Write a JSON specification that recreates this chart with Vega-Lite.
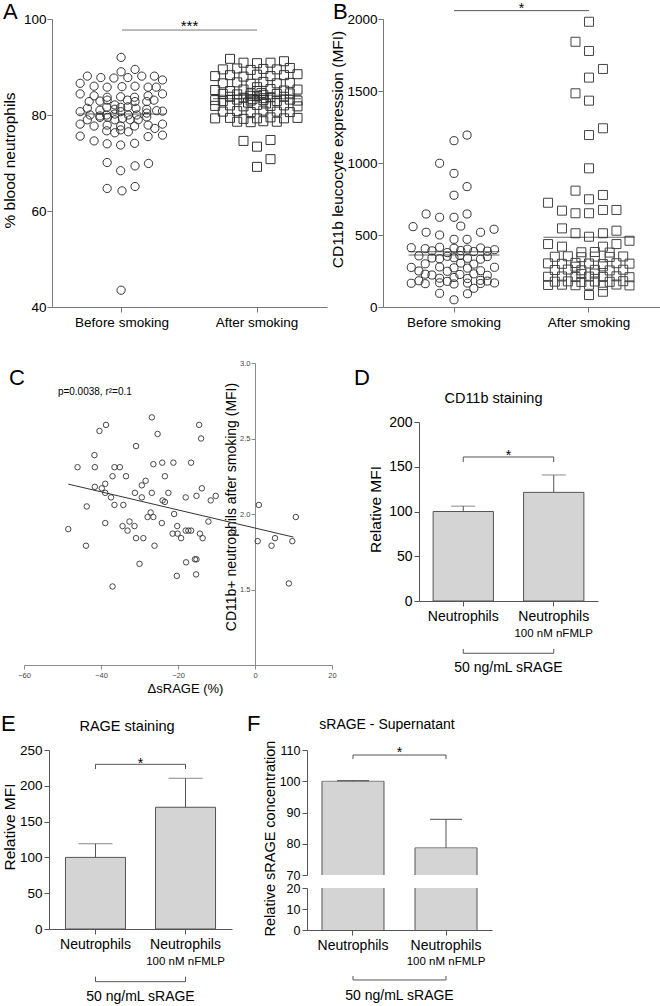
{
"$schema": "https://vega.github.io/schema/vega-lite/v6.json",
"width": 660,
"height": 1006,
"autosize": {"type": "none"},
"padding": 0,
"background": "white",
"config": {
 "view": {"stroke": null},
 "font": "Liberation Sans",
 "axis": {"labelFont": "Liberation Sans", "titleFont": "Liberation Sans", "titleFontWeight": "normal", "labelColor": "#000", "titleColor": "#000", "domainColor": "#555", "tickColor": "#555", "grid": false, "tickSize": 5, "labelFontSize": 13.5, "titleFontSize": 15.5, "labelPadding": 2, "labelFlush": false, "labelOverlap": false},
 "text": {"font": "Liberation Sans", "color": "#000"}
},
"resolve": {"scale": {"x": "independent", "y": "independent", "xOffset": "independent"}, "axis": {"x": "independent", "y": "independent"}},
"datasets": {
 "a_pts": [
  {"g":"Before smoking","j":-0.02,"v":92.0},{"g":"Before smoking","j":0.29,"v":89.5},{"g":"Before smoking","j":-0.02,"v":89.0},{"g":"Before smoking","j":-0.77,"v":88.1},{"g":"Before smoking","j":-0.47,"v":87.8},{"g":"Before smoking","j":-0.18,"v":87.7},{"g":"Before smoking","j":0.13,"v":87.8},{"g":"Before smoking","j":0.44,"v":88.1},{"g":"Before smoking","j":0.72,"v":88.1},{"g":"Before smoking","j":0.9,"v":87.3},
  {"g":"Before smoking","j":-0.93,"v":86.6},{"g":"Before smoking","j":-0.62,"v":86.0},{"g":"Before smoking","j":-0.33,"v":85.8},{"g":"Before smoking","j":0.0,"v":85.9},{"g":"Before smoking","j":0.29,"v":86.0},{"g":"Before smoking","j":0.58,"v":85.8},{"g":"Before smoking","j":0.76,"v":85.8},
  {"g":"Before smoking","j":-0.93,"v":84.4},{"g":"Before smoking","j":-0.62,"v":84.0},{"g":"Before smoking","j":-0.33,"v":83.7},{"g":"Before smoking","j":-0.03,"v":83.8},{"g":"Before smoking","j":0.28,"v":83.7},{"g":"Before smoking","j":0.58,"v":84.0},{"g":"Before smoking","j":0.9,"v":84.4},
  {"g":"Before smoking","j":-0.73,"v":82.8},{"g":"Before smoking","j":-0.49,"v":82.9},{"g":"Before smoking","j":-0.33,"v":83.1},{"g":"Before smoking","j":-0.16,"v":82.1},{"g":"Before smoking","j":0.12,"v":83.1},{"g":"Before smoking","j":0.29,"v":82.8},{"g":"Before smoking","j":0.55,"v":82.8},{"g":"Before smoking","j":0.71,"v":83.1},
  {"g":"Before smoking","j":-0.77,"v":81.4},{"g":"Before smoking","j":-0.49,"v":81.0},{"g":"Before smoking","j":-0.34,"v":81.6},{"g":"Before smoking","j":-0.16,"v":81.2},{"g":"Before smoking","j":-0.03,"v":81.6},{"g":"Before smoking","j":0.13,"v":81.7},{"g":"Before smoking","j":0.31,"v":81.4},{"g":"Before smoking","j":0.55,"v":81.2},{"g":"Before smoking","j":0.77,"v":80.9},
  {"g":"Before smoking","j":-0.93,"v":80.7},{"g":"Before smoking","j":-0.71,"v":80.0},{"g":"Before smoking","j":-0.49,"v":79.8},{"g":"Before smoking","j":-0.34,"v":80.0},{"g":"Before smoking","j":-0.16,"v":80.2},{"g":"Before smoking","j":-0.03,"v":80.7},{"g":"Before smoking","j":0.14,"v":80.0},{"g":"Before smoking","j":0.33,"v":80.0},{"g":"Before smoking","j":0.55,"v":80.4},{"g":"Before smoking","j":0.9,"v":80.8},
  {"g":"Before smoking","j":-0.77,"v":79.0},{"g":"Before smoking","j":-0.49,"v":79.5},{"g":"Before smoking","j":-0.32,"v":79.5},{"g":"Before smoking","j":-0.16,"v":79.0},{"g":"Before smoking","j":0.01,"v":79.3},{"g":"Before smoking","j":0.18,"v":79.0},{"g":"Before smoking","j":0.36,"v":79.0},{"g":"Before smoking","j":0.55,"v":79.6},
  {"g":"Before smoking","j":-0.93,"v":78.1},{"g":"Before smoking","j":-0.62,"v":77.7},{"g":"Before smoking","j":-0.33,"v":77.9},{"g":"Before smoking","j":-0.03,"v":77.7},{"g":"Before smoking","j":0.28,"v":77.7},{"g":"Before smoking","j":0.58,"v":77.9},{"g":"Before smoking","j":0.9,"v":78.1},
  {"g":"Before smoking","j":-0.34,"v":76.7},{"g":"Before smoking","j":-0.16,"v":76.3},{"g":"Before smoking","j":-0.03,"v":76.9},{"g":"Before smoking","j":0.14,"v":76.5},{"g":"Before smoking","j":0.73,"v":77.2},
  {"g":"Before smoking","j":-0.93,"v":75.6},{"g":"Before smoking","j":-0.62,"v":74.6},{"g":"Before smoking","j":-0.33,"v":74.0},{"g":"Before smoking","j":-0.03,"v":73.75},{"g":"Before smoking","j":0.28,"v":74.1},{"g":"Before smoking","j":0.58,"v":75.5},{"g":"Before smoking","j":0.9,"v":75.8},
  {"g":"Before smoking","j":-0.33,"v":70.1},{"g":"Before smoking","j":-0.03,"v":68.4},{"g":"Before smoking","j":0.29,"v":69.4},{"g":"Before smoking","j":0.59,"v":69.9},
  {"g":"Before smoking","j":-0.33,"v":64.7},{"g":"Before smoking","j":0.0,"v":64.2},{"g":"Before smoking","j":0.29,"v":65.1},{"g":"Before smoking","j":-0.02,"v":43.5},
  {"g":"After smoking","j":-0.6,"v":91.7},{"g":"After smoking","j":-0.3,"v":90.9},{"g":"After smoking","j":0.0,"v":90.8},{"g":"After smoking","j":0.3,"v":90.9},{"g":"After smoking","j":0.6,"v":91.2},
  {"g":"After smoking","j":-0.76,"v":89.5},{"g":"After smoking","j":-0.44,"v":89.7},{"g":"After smoking","j":-0.14,"v":89.4},{"g":"After smoking","j":0.14,"v":89.6},{"g":"After smoking","j":0.44,"v":89.5},{"g":"After smoking","j":0.73,"v":89.8},
  {"g":"After smoking","j":-0.93,"v":88.1},{"g":"After smoking","j":-0.6,"v":88.3},{"g":"After smoking","j":-0.3,"v":88.0},{"g":"After smoking","j":0.0,"v":88.4},{"g":"After smoking","j":0.3,"v":88.1},{"g":"After smoking","j":0.6,"v":88.3},{"g":"After smoking","j":0.9,"v":88.5},
  {"g":"After smoking","j":-0.76,"v":86.6},{"g":"After smoking","j":-0.44,"v":86.8},{"g":"After smoking","j":-0.14,"v":86.5},{"g":"After smoking","j":0.14,"v":86.9},{"g":"After smoking","j":0.44,"v":86.6},{"g":"After smoking","j":0.73,"v":86.7},
  {"g":"After smoking","j":-0.93,"v":85.2},{"g":"After smoking","j":-0.6,"v":85.0},{"g":"After smoking","j":-0.3,"v":85.3},{"g":"After smoking","j":0.0,"v":85.0},{"g":"After smoking","j":0.3,"v":85.4},{"g":"After smoking","j":0.6,"v":85.1},{"g":"After smoking","j":0.9,"v":85.3},
  {"g":"After smoking","j":-0.76,"v":84.4},{"g":"After smoking","j":-0.44,"v":84.3},{"g":"After smoking","j":-0.14,"v":84.5},{"g":"After smoking","j":0.14,"v":84.2},{"g":"After smoking","j":0.44,"v":84.4},{"g":"After smoking","j":0.73,"v":84.5},
  {"g":"After smoking","j":-0.6,"v":83.8},{"g":"After smoking","j":-0.3,"v":83.6},{"g":"After smoking","j":0.0,"v":83.9},{"g":"After smoking","j":0.3,"v":83.7},{"g":"After smoking","j":0.6,"v":83.8},
  {"g":"After smoking","j":-0.93,"v":83.1},{"g":"After smoking","j":-0.76,"v":82.9},{"g":"After smoking","j":-0.44,"v":83.2},{"g":"After smoking","j":-0.14,"v":83.0},{"g":"After smoking","j":0.14,"v":83.1},{"g":"After smoking","j":0.44,"v":82.9},{"g":"After smoking","j":0.73,"v":83.2},{"g":"After smoking","j":0.9,"v":83.0},
  {"g":"After smoking","j":-0.93,"v":81.9},{"g":"After smoking","j":-0.6,"v":82.0},{"g":"After smoking","j":-0.3,"v":81.8},{"g":"After smoking","j":0.0,"v":82.1},{"g":"After smoking","j":0.3,"v":81.9},{"g":"After smoking","j":0.6,"v":82.0},{"g":"After smoking","j":0.9,"v":81.8},
  {"g":"After smoking","j":-0.76,"v":80.7},{"g":"After smoking","j":-0.44,"v":80.8},{"g":"After smoking","j":-0.14,"v":80.6},{"g":"After smoking","j":0.14,"v":80.9},{"g":"After smoking","j":0.44,"v":80.7},{"g":"After smoking","j":0.73,"v":80.6},
  {"g":"After smoking","j":-0.93,"v":79.3},{"g":"After smoking","j":-0.6,"v":79.4},{"g":"After smoking","j":-0.3,"v":79.2},{"g":"After smoking","j":0.0,"v":79.3},{"g":"After smoking","j":0.3,"v":79.5},{"g":"After smoking","j":0.6,"v":79.3},{"g":"After smoking","j":0.9,"v":79.4},
  {"g":"After smoking","j":-0.44,"v":78.6},{"g":"After smoking","j":-0.14,"v":78.5},{"g":"After smoking","j":0.14,"v":78.7},{"g":"After smoking","j":0.44,"v":78.6},
  {"g":"After smoking","j":-0.15,"v":84.0},{"g":"After smoking","j":0.15,"v":83.5},{"g":"After smoking","j":-0.1,"v":83.3},{"g":"After smoking","j":0.1,"v":84.6},{"g":"After smoking","j":0.0,"v":85.8},{"g":"After smoking","j":-0.2,"v":82.6},{"g":"After smoking","j":0.2,"v":82.4},
  {"g":"After smoking","j":-0.3,"v":74.6},{"g":"After smoking","j":0.0,"v":73.4},{"g":"After smoking","j":0.3,"v":74.8},{"g":"After smoking","j":0.3,"v":70.8},{"g":"After smoking","j":0.0,"v":69.2}
 ],
 "a_mean": [{"g":"Before smoking","v":80.2},{"g":"After smoking","v":84.1},{"g":"After smoking","v":83.4}],
 "b_pts": [
  {"g":"Before smoking","j":0.29,"v":1194},{"g":"Before smoking","j":0,"v":1155},{"g":"Before smoking","j":-0.32,"v":998},{"g":"Before smoking","j":0,"v":928},{"g":"Before smoking","j":0.29,"v":836},{"g":"Before smoking","j":0,"v":776},{"g":"Before smoking","j":-0.62,"v":646},{"g":"Before smoking","j":-0.32,"v":623},{"g":"Before smoking","j":0,"v":623},{"g":"Before smoking","j":0.29,"v":646},{"g":"Before smoking","j":-0.91,"v":558},{"g":"Before smoking","j":0.15,"v":562},{"g":"Before smoking","j":-0.62,"v":519},{"g":"Before smoking","j":-0.32,"v":500},{"g":"Before smoking","j":0.59,"v":519},{"g":"Before smoking","j":0.89,"v":540},{"g":"Before smoking","j":0,"v":470},{"g":"Before smoking","j":0.29,"v":470},
  {"g":"Before smoking","j":-0.95,"v":412},{"g":"Before smoking","j":-0.64,"v":405},{"g":"Before smoking","j":-0.32,"v":415},{"g":"Before smoking","j":0,"v":408},{"g":"Before smoking","j":0.3,"v":402},{"g":"Before smoking","j":0.59,"v":410},{"g":"Before smoking","j":0.9,"v":398},
  {"g":"Before smoking","j":-0.49,"v":390},{"g":"Before smoking","j":0.15,"v":392},{"g":"Before smoking","j":0.44,"v":385},{"g":"Before smoking","j":0.74,"v":388},{"g":"Before smoking","j":-0.15,"v":378},
  {"g":"Before smoking","j":-0.78,"v":355},{"g":"Before smoking","j":-0.15,"v":352},{"g":"Before smoking","j":0.13,"v":358},{"g":"Before smoking","j":0.74,"v":350},
  {"g":"Before smoking","j":-0.49,"v":340},{"g":"Before smoking","j":-0.32,"v":335},{"g":"Before smoking","j":0,"v":342},{"g":"Before smoking","j":0.3,"v":338},{"g":"Before smoking","j":0.59,"v":332},
  {"g":"Before smoking","j":-0.64,"v":300},{"g":"Before smoking","j":0.15,"v":305},{"g":"Before smoking","j":0.44,"v":298},
  {"g":"Before smoking","j":-0.95,"v":275},{"g":"Before smoking","j":-0.32,"v":278},{"g":"Before smoking","j":0,"v":272},{"g":"Before smoking","j":0.3,"v":270},{"g":"Before smoking","j":0.9,"v":276},
  {"g":"Before smoking","j":-0.78,"v":250},{"g":"Before smoking","j":-0.15,"v":248},{"g":"Before smoking","j":0.59,"v":252},
  {"g":"Before smoking","j":-0.64,"v":228},{"g":"Before smoking","j":-0.49,"v":222},{"g":"Before smoking","j":0.13,"v":226},{"g":"Before smoking","j":0.44,"v":230},{"g":"Before smoking","j":0.74,"v":220},
  {"g":"Before smoking","j":-0.32,"v":200},{"g":"Before smoking","j":0,"v":205},{"g":"Before smoking","j":0.3,"v":198},
  {"g":"Before smoking","j":-0.78,"v":182},{"g":"Before smoking","j":-0.15,"v":178},{"g":"Before smoking","j":0.59,"v":185},{"g":"Before smoking","j":0.74,"v":180},
  {"g":"Before smoking","j":-0.95,"v":165},{"g":"Before smoking","j":-0.64,"v":162},{"g":"Before smoking","j":-0.32,"v":168},{"g":"Before smoking","j":0,"v":160},{"g":"Before smoking","j":0.3,"v":166},{"g":"Before smoking","j":0.59,"v":163},{"g":"Before smoking","j":0.9,"v":167},
  {"g":"Before smoking","j":0.44,"v":130},{"g":"Before smoking","j":-0.32,"v":95},{"g":"Before smoking","j":0.3,"v":92},{"g":"Before smoking","j":0,"v":50},
  {"g":"After smoking","j":0,"v":1981},{"g":"After smoking","j":-0.3,"v":1842},{"g":"After smoking","j":0,"v":1778},{"g":"After smoking","j":0.31,"v":1653},{"g":"After smoking","j":0,"v":1593},{"g":"After smoking","j":-0.3,"v":1484},{"g":"After smoking","j":0,"v":1433},{"g":"After smoking","j":0.31,"v":1241},{"g":"After smoking","j":0,"v":1194},{"g":"After smoking","j":0,"v":963},{"g":"After smoking","j":-0.3,"v":808},{"g":"After smoking","j":0,"v":748},{"g":"After smoking","j":0.31,"v":778},{"g":"After smoking","j":-0.91,"v":724},{"g":"After smoking","j":-0.6,"v":669},{"g":"After smoking","j":-0.3,"v":651},{"g":"After smoking","j":0,"v":651},{"g":"After smoking","j":0.31,"v":674},{"g":"After smoking","j":0.61,"v":674},{"g":"After smoking","j":-0.6,"v":546},{"g":"After smoking","j":-0.3,"v":512},{"g":"After smoking","j":0,"v":488},{"g":"After smoking","j":0.31,"v":512},{"g":"After smoking","j":0.61,"v":530},{"g":"After smoking","j":-0.91,"v":437},{"g":"After smoking","j":-0.6,"v":419},{"g":"After smoking","j":0.9,"v":460},{"g":"After smoking","j":0.31,"v":419},{"g":"After smoking","j":0.61,"v":437},
  {"g":"After smoking","j":-0.76,"v":349},{"g":"After smoking","j":-0.47,"v":352},{"g":"After smoking","j":-0.17,"v":346},{"g":"After smoking","j":0.13,"v":350},{"g":"After smoking","j":0.46,"v":348},{"g":"After smoking","j":0.76,"v":351},
  {"g":"After smoking","j":-0.91,"v":303},{"g":"After smoking","j":-0.6,"v":300},{"g":"After smoking","j":-0.3,"v":306},{"g":"After smoking","j":0,"v":302},{"g":"After smoking","j":0.31,"v":298},{"g":"After smoking","j":0.61,"v":304},{"g":"After smoking","j":0.9,"v":301},
  {"g":"After smoking","j":-0.76,"v":257},{"g":"After smoking","j":-0.47,"v":260},{"g":"After smoking","j":-0.17,"v":255},{"g":"After smoking","j":0.13,"v":258},{"g":"After smoking","j":0.46,"v":254},{"g":"After smoking","j":0.76,"v":259},
  {"g":"After smoking","j":-0.91,"v":210},{"g":"After smoking","j":-0.6,"v":212},{"g":"After smoking","j":-0.3,"v":208},{"g":"After smoking","j":0,"v":211},{"g":"After smoking","j":0.31,"v":209},{"g":"After smoking","j":0.61,"v":213},{"g":"After smoking","j":0.9,"v":207},
  {"g":"After smoking","j":-0.76,"v":176},{"g":"After smoking","j":-0.47,"v":178},{"g":"After smoking","j":-0.17,"v":174},{"g":"After smoking","j":0.13,"v":177},{"g":"After smoking","j":0.46,"v":175},{"g":"After smoking","j":0.76,"v":179},
  {"g":"After smoking","j":-0.91,"v":153},{"g":"After smoking","j":-0.6,"v":155},{"g":"After smoking","j":-0.3,"v":151},{"g":"After smoking","j":0,"v":154},{"g":"After smoking","j":0.31,"v":152},{"g":"After smoking","j":0.61,"v":156},{"g":"After smoking","j":0.9,"v":150},
  {"g":"After smoking","j":0,"v":83},{"g":"After smoking","j":0.31,"v":106},{"g":"After smoking","j":-0.17,"v":380},{"g":"After smoking","j":0.13,"v":382},{"g":"After smoking","j":0.46,"v":378},{"g":"After smoking","j":-0.17,"v":230},{"g":"After smoking","j":0.13,"v":232},{"g":"After smoking","j":-0.3,"v":280},{"g":"After smoking","j":0.31,"v":282}
 ],
 "b_mean": [{"g":"Before smoking","v":384},{"g":"Before smoking","v":361},{"g":"After smoking","v":484}],
 "c_pts": [
  {"d":-48.5,"m":1.90},{"d":-46.1,"m":2.31},{"d":-43.9,"m":1.79},{"d":-43.7,"m":2.05},{"d":-41.7,"m":2.39},{"d":-41.6,"m":2.31},{"d":-41.6,"m":2.18},{"d":-40.4,"m":2.55},{"d":-39.8,"m":2.17},{"d":-38.9,"m":2.20},
  {"d":-38.9,"m":2.14},{"d":-38.9,"m":1.94},{"d":-38.7,"m":2.59},{"d":-37.4,"m":2.11},{"d":-37.0,"m":2.25},{"d":-37.0,"m":1.52},{"d":-36.5,"m":2.31},{"d":-36.5,"m":2.06},{"d":-35.1,"m":2.31},{"d":-34.4,"m":1.92},
  {"d":-34.2,"m":2.06},{"d":-33.5,"m":2.25},{"d":-33.1,"m":1.89},{"d":-32.6,"m":1.95},{"d":-31.3,"m":1.92},{"d":-31.2,"m":2.14},{"d":-30.9,"m":2.45},{"d":-30.9,"m":1.84},{"d":-30.0,"m":1.67},{"d":-29.4,"m":2.19},
  {"d":-29.4,"m":2.11},{"d":-29.0,"m":1.84},{"d":-28.4,"m":2.22},{"d":-27.9,"m":1.98},{"d":-27.1,"m":2.01},{"d":-26.8,"m":2.64},{"d":-26.8,"m":2.14},{"d":-26.4,"m":1.98},{"d":-26.4,"m":2.33},{"d":-26.1,"m":1.79},
  {"d":-25.3,"m":2.53},{"d":-24.2,"m":1.94},{"d":-24.1,"m":2.34},{"d":-24.0,"m":2.09},{"d":-23.4,"m":2.25},{"d":-23.4,"m":2.08},{"d":-22.5,"m":2.14},{"d":-21.2,"m":2.34},{"d":-21.0,"m":2.00},{"d":-21.4,"m":1.87},
  {"d":-20.3,"m":1.59},{"d":-20.2,"m":1.92},{"d":-20.1,"m":1.87},{"d":-19.2,"m":1.84},{"d":-18.0,"m":2.11},{"d":-18.0,"m":1.89},{"d":-17.9,"m":1.68},{"d":-17.3,"m":1.89},{"d":-16.6,"m":1.89},{"d":-16.6,"m":2.34},
  {"d":-15.6,"m":1.70},{"d":-15.2,"m":1.70},{"d":-15.3,"m":1.60},{"d":-15.2,"m":2.12},{"d":-14.5,"m":2.59},{"d":-14.0,"m":2.50},{"d":-14.3,"m":1.87},{"d":-13.8,"m":2.17},{"d":-13.6,"m":1.84},{"d":-12.1,"m":1.95},
  {"d":-11.5,"m":2.09},{"d":-10.2,"m":2.12},{"d":-5.6,"m":1.89},{"d":1.0,"m":2.06},{"d":0.7,"m":1.82},{"d":4.3,"m":1.79},{"d":5.2,"m":1.84},{"d":9.7,"m":1.82},{"d":10.6,"m":1.98},{"d":8.8,"m":1.54}
 ],
 "c_fit": [{"d":-48.5,"m":2.198},{"d":10.0,"m":1.847}],
 "d_bars": [{"cond":"Neutrophils","mean":100,"upper":106},{"cond":"Neutrophils + nFMLP","mean":121.4,"upper":140.8}],
 "e_bars": [{"cond":"Neutrophils","mean":100,"upper":119},{"cond":"Neutrophils + nFMLP","mean":170,"upper":210.5}],
 "f_bars": [{"cond":"Neutrophils","mean":100,"upper":100.2},{"cond":"Neutrophils + nFMLP","mean":78.7,"upper":87.8}]
},
"layer": [
 {
  "data": {"name": "a_pts"},
  "encoding": {
   "x": {"field": "g", "type": "nominal", "scale": {"type": "band", "domain": ["Before smoking", "After smoking"], "range": [52, 327], "paddingInner": 0, "paddingOuter": 0.0185},
         "axis": {"orient": "bottom", "offset": -699, "title": null, "labelAngle": 0, "labelPadding": 3, "domainColor": "#777", "tickColor": "#777"}},
   "y": {"field": "v", "type": "quantitative", "scale": {"domain": [40, 100], "range": [307, 19], "nice": false, "zero": false},
         "axis": {"orient": "left", "offset": -52, "values": [40, 60, 80, 100], "title": "% blood neutrophils", "titleX": -35, "titleY": 160, "labelPadding": 1, "domainColor": "#777", "tickColor": "#777"}},
   "xOffset": {"field": "j", "type": "quantitative", "scale": {"domain": [-1.5, 1.5], "nice": false, "zero": false}}
  },
  "layer": [
   {"transform": [{"filter": "datum.g === 'Before smoking'"}], "mark": {"type": "point", "shape": "circle", "size": 68, "filled": false, "stroke": "#333", "strokeWidth": 1, "opacity": 1}},
   {"transform": [{"filter": "datum.g === 'After smoking'"}], "mark": {"type": "point", "shape": "square", "size": 81, "filled": false, "stroke": "#333", "strokeWidth": 1, "opacity": 1}}
  ]
 },
 {
  "data": {"name": "a_mean"},
  "mark": {"type": "tick", "orient": "horizontal", "size": 88, "thickness": 1, "color": "#222"},
  "encoding": {
   "x": {"field": "g", "type": "nominal", "scale": {"type": "band", "domain": ["Before smoking", "After smoking"], "range": [52, 327], "paddingInner": 0, "paddingOuter": 0.0185}, "axis": null},
   "y": {"field": "v", "type": "quantitative", "scale": {"domain": [40, 100], "range": [307, 19], "nice": false, "zero": false}, "axis": null}
  }
 },
 {
  "data": {"values": [{}]},
  "encoding": {
   "x": {"datum": "Before smoking", "bandPosition": 0.5, "scale": {"type": "band", "domain": ["Before smoking", "After smoking"], "range": [52, 327], "paddingInner": 0, "paddingOuter": 0.0185}, "axis": null},
   "y": {"datum": 97.7, "scale": {"domain": [40, 100], "range": [307, 19], "nice": false, "zero": false}, "axis": null}
  },
  "layer": [
   {"mark": {"type": "rule", "color": "#777", "strokeWidth": 1}, "encoding": {"x2": {"datum": "After smoking", "bandPosition": 0.5}}},
   {"mark": {"type": "text", "text": "***", "fontSize": 15, "dx": 67.5, "align": "center", "baseline": "alphabetic"}, "encoding": {"y": {"datum": 97.6, "axis": null}}},
   {"mark": {"type": "text", "text": "A", "fontSize": 22, "dx": -51.5, "align": "left", "baseline": "alphabetic"},
    "encoding": {"x": {"datum": "Before smoking", "bandPosition": 0, "axis": null}, "y": {"datum": 100, "axis": null}}}
  ]
 },
 {
  "data": {"name": "b_pts"},
  "encoding": {
   "x": {"field": "g", "type": "nominal", "scale": {"type": "band", "domain": ["Before smoking", "After smoking"], "range": [383, 660], "paddingInner": 0, "paddingOuter": 0.026},
         "axis": {"orient": "bottom", "offset": -699, "title": null, "labelAngle": 0, "labelPadding": 3, "domainColor": "#777", "tickColor": "#777"}},
   "y": {"field": "v", "type": "quantitative", "scale": {"domain": [0, 2000], "range": [307, 19], "nice": false, "zero": false},
         "axis": {"orient": "left", "offset": -383, "values": [0, 500, 1000, 1500, 2000], "format": "d", "title": "CD11b leucocyte expression (MFI)", "titleX": -38, "titleY": 149, "labelPadding": 1, "domainColor": "#777", "tickColor": "#777"}},
   "xOffset": {"field": "j", "type": "quantitative", "scale": {"domain": [-1.5, 1.5], "nice": false, "zero": false}}
  },
  "layer": [
   {"transform": [{"filter": "datum.g === 'Before smoking'"}], "mark": {"type": "point", "shape": "circle", "size": 66, "filled": false, "stroke": "#333", "strokeWidth": 1, "opacity": 1}},
   {"transform": [{"filter": "datum.g === 'After smoking'"}], "mark": {"type": "point", "shape": "square", "size": 81, "filled": false, "stroke": "#444", "strokeWidth": 1, "opacity": 1}}
  ]
 },
 {
  "data": {"name": "b_mean"},
  "mark": {"type": "tick", "orient": "horizontal", "size": 91, "thickness": 1, "color": "#222"},
  "encoding": {
   "x": {"field": "g", "type": "nominal", "scale": {"type": "band", "domain": ["Before smoking", "After smoking"], "range": [383, 660], "paddingInner": 0, "paddingOuter": 0.026}, "axis": null},
   "y": {"field": "v", "type": "quantitative", "scale": {"domain": [0, 2000], "range": [307, 19], "nice": false, "zero": false}, "axis": null}
  }
 },
 {
  "data": {"values": [{}]},
  "encoding": {
   "x": {"datum": "Before smoking", "bandPosition": 0.5, "scale": {"type": "band", "domain": ["Before smoking", "After smoking"], "range": [383, 660], "paddingInner": 0, "paddingOuter": 0.026}, "axis": null},
   "y": {"datum": 2058, "scale": {"domain": [0, 2000], "range": [307, 19], "nice": false, "zero": false}, "axis": null}
  },
  "layer": [
   {"mark": {"type": "rule", "color": "#555", "strokeWidth": 1}, "encoding": {"x2": {"datum": "After smoking", "bandPosition": 0.5}}},
   {"mark": {"type": "text", "text": "*", "fontSize": 14, "dx": 67.5, "align": "center", "baseline": "alphabetic"}, "encoding": {"y": {"datum": 2045, "axis": null}}},
   {"mark": {"type": "text", "text": "B", "fontSize": 22, "dx": -53.5, "align": "left", "baseline": "alphabetic"},
    "encoding": {"x": {"datum": "Before smoking", "bandPosition": 0, "axis": null}, "y": {"datum": 2000, "axis": null}}}
  ]
 },
 {
  "layer": [
   {"data": {"name": "c_pts"}, "mark": {"type": "point", "shape": "circle", "size": 30, "filled": false, "stroke": "#333", "strokeWidth": 0.9, "opacity": 1},
    "encoding": {
     "x": {"field": "d", "type": "quantitative", "scale": {"domain": [-60, 20], "range": [24, 332], "nice": false, "zero": false},
           "axis": {"orient": "bottom", "offset": -341, "values": [-60, -40, -20, 0, 20], "title": "ΔsRAGE (%)", "titleX": 185, "titleFontSize": 13, "titlePadding": 4, "labelFontSize": 7.5, "labelColor": "#444", "domainColor": "#8c8c8c", "tickColor": "#8c8c8c", "tickSize": 4, "labelPadding": 2}},
     "y": {"field": "m", "type": "quantitative", "scale": {"domain": [1, 3], "range": [665, 363], "nice": false, "zero": false},
           "axis": {"orient": "left", "offset": -255, "values": [1.5, 2, 2.5, 3], "format": ".1f", "title": "CD11b+ neutrophils after smoking (MFI)", "titleFontSize": 14, "titleX": -17, "titleY": 506.5, "labelFontSize": 7.5, "labelColor": "#444", "domainColor": "#8c8c8c", "tickColor": "#8c8c8c", "tickSize": 4, "labelPadding": 1}}
    }},
   {"data": {"name": "c_fit"}, "mark": {"type": "line", "color": "#333", "strokeWidth": 1},
    "encoding": {"x": {"field": "d", "type": "quantitative"}, "y": {"field": "m", "type": "quantitative"}}}
  ]
 },
 {
  "data": {"values": [{}]},
  "encoding": {
   "x": {"datum": -51.2, "scale": {"domain": [-60, 20], "range": [24, 332], "nice": false, "zero": false}, "axis": null},
   "y": {"datum": 2.808, "scale": {"domain": [1, 3], "range": [665, 363], "nice": false, "zero": false}, "axis": null}
  },
  "layer": [
   {"mark": {"type": "text", "text": "p=0.0038, r²=0.1", "fontSize": 10, "align": "left", "baseline": "middle"}},
   {"mark": {"type": "text", "text": "C", "fontSize": 22, "align": "left", "baseline": "alphabetic"},
    "encoding": {"x": {"datum": -63.9, "axis": null}, "y": {"datum": 2.854, "axis": null}}}
  ]
 },
 {
  "data": {"name": "d_bars"},
  "encoding": {
   "x": {"field": "cond", "type": "nominal", "scale": {"type": "band", "domain": ["Neutrophils", "Neutrophils + nFMLP"], "range": [419, 598], "paddingInner": 0.3333, "paddingOuter": 0.156},
         "axis": {"orient": "bottom", "offset": -405, "title": null, "labelAngle": 0, "labelExpr": "'Neutrophils'", "labelFontSize": 14, "labelPadding": 3}},
   "y": {"field": "mean", "type": "quantitative", "scale": {"domain": [0, 200], "range": [601, 422], "nice": false, "zero": false},
         "axis": {"orient": "left", "offset": -419, "values": [0, 50, 100, 150, 200], "title": "Relative MFI", "titleX": -36, "titleY": 509, "labelFontSize": 14}}
  },
  "layer": [
   {"mark": {"type": "bar", "width": {"band": 1}, "fill": "#d4d4d4", "stroke": "#555", "strokeWidth": 1}},
   {"mark": {"type": "rule", "color": "#555"}, "encoding": {"y2": {"field": "upper"}}},
   {"mark": {"type": "tick", "orient": "horizontal", "size": 24, "thickness": 1, "color": "#555"}, "encoding": {"y": {"field": "upper", "type": "quantitative"}}},
   {"mark": {"type": "rule", "color": "#555"}, "encoding": {"y": {"datum": 155.3}, "y2": {"datum": 160.9}}},
   {"mark": {"type": "rule", "color": "#555"}, "encoding": {"y": {"datum": -58.4}, "y2": {"datum": -53.6}}}
  ]
 },
 {
  "data": {"values": [{}]},
  "encoding": {
   "x": {"datum": "Neutrophils", "bandPosition": 0.5, "scale": {"type": "band", "domain": ["Neutrophils", "Neutrophils + nFMLP"], "range": [419, 598], "paddingInner": 0.3333, "paddingOuter": 0.156}, "axis": null},
   "y": {"datum": 160.9, "scale": {"domain": [0, 200], "range": [601, 422], "nice": false, "zero": false}, "axis": null}
  },
  "layer": [
   {"mark": {"type": "rule", "color": "#555"}, "encoding": {"x2": {"datum": "Neutrophils + nFMLP", "bandPosition": 0.5}}},
   {"mark": {"type": "text", "text": "*", "fontSize": 14, "dx": 45.2, "align": "center", "baseline": "alphabetic"}, "encoding": {"y": {"datum": 157.5, "axis": null}}},
   {"mark": {"type": "text", "text": "100 nM nFMLP", "fontSize": 11.5, "align": "center", "baseline": "middle"},
    "encoding": {"x": {"datum": "Neutrophils + nFMLP", "bandPosition": 0.5, "axis": null}, "y": {"datum": -36.5, "axis": null}}},
   {"mark": {"type": "rule", "color": "#555"}, "encoding": {"x2": {"datum": "Neutrophils + nFMLP", "bandPosition": 0.5}, "y": {"datum": -58.4, "axis": null}}},
   {"mark": {"type": "text", "text": "50 ng/mL sRAGE", "fontSize": 14, "dx": 45.2, "align": "center", "baseline": "middle"}, "encoding": {"y": {"datum": -75.2, "axis": null}}},
   {"mark": {"type": "text", "text": "D", "fontSize": 22, "dx": -79, "align": "left", "baseline": "alphabetic"},
    "encoding": {"x": {"datum": "Neutrophils", "bandPosition": 0, "axis": null}, "y": {"datum": 241.3, "axis": null}}},
   {"mark": {"type": "text", "text": "CD11b staining", "fontSize": 14.5, "dx": 30.2, "align": "center", "baseline": "alphabetic"}, "encoding": {"y": {"datum": 221.6, "axis": null}}}
  ]
 },
 {
  "data": {"name": "e_bars"},
  "encoding": {
   "x": {"field": "cond", "type": "nominal", "scale": {"type": "band", "domain": ["Neutrophils", "Neutrophils + nFMLP"], "range": [49, 232], "paddingInner": 0.3333, "paddingOuter": 0.183},
         "axis": {"orient": "bottom", "offset": -77, "title": null, "labelAngle": 0, "labelExpr": "'Neutrophils'", "labelFontSize": 14, "labelPadding": 3}},
   "y": {"field": "mean", "type": "quantitative", "scale": {"domain": [0, 250], "range": [929, 750], "nice": false, "zero": false},
         "axis": {"orient": "left", "offset": -49, "values": [0, 50, 100, 150, 200, 250], "title": "Relative MFI", "titleX": -32, "titleY": 826.5, "labelFontSize": 13.5}}
  },
  "layer": [
   {"mark": {"type": "bar", "width": {"band": 1}, "fill": "#d4d4d4", "stroke": "#555", "strokeWidth": 1}},
   {"mark": {"type": "rule", "color": "#555"}, "encoding": {"y2": {"field": "upper"}}},
   {"mark": {"type": "tick", "orient": "horizontal", "size": 34, "thickness": 1, "color": "#555"}, "encoding": {"y": {"field": "upper", "type": "quantitative"}}},
   {"mark": {"type": "rule", "color": "#555"}, "encoding": {"y": {"datum": 223.5}, "y2": {"datum": 230}}},
   {"mark": {"type": "rule", "color": "#555"}, "encoding": {"y": {"datum": -73.6}, "y2": {"datum": -66.6}}}
  ]
 },
 {
  "data": {"values": [{}]},
  "encoding": {
   "x": {"datum": "Neutrophils", "bandPosition": 0.5, "scale": {"type": "band", "domain": ["Neutrophils", "Neutrophils + nFMLP"], "range": [49, 232], "paddingInner": 0.3333, "paddingOuter": 0.183}, "axis": null},
   "y": {"datum": 230, "scale": {"domain": [0, 250], "range": [929, 750], "nice": false, "zero": false}, "axis": null}
  },
  "layer": [
   {"mark": {"type": "rule", "color": "#555"}, "encoding": {"x2": {"datum": "Neutrophils + nFMLP", "bandPosition": 0.5}}},
   {"mark": {"type": "text", "text": "*", "fontSize": 14, "dx": 45, "align": "center", "baseline": "alphabetic"}, "encoding": {"y": {"datum": 225.1, "axis": null}}},
   {"mark": {"type": "text", "text": "100 nM nFMLP", "fontSize": 11.5, "align": "center", "baseline": "middle"},
    "encoding": {"x": {"datum": "Neutrophils + nFMLP", "bandPosition": 0.5, "axis": null}, "y": {"datum": -45.7, "axis": null}}},
   {"mark": {"type": "rule", "color": "#555"}, "encoding": {"x2": {"datum": "Neutrophils + nFMLP", "bandPosition": 0.5}, "y": {"datum": -73.6, "axis": null}}},
   {"mark": {"type": "text", "text": "50 ng/mL sRAGE", "fontSize": 14, "dx": 45, "align": "center", "baseline": "middle"}, "encoding": {"y": {"datum": -94.5, "axis": null}}},
   {"mark": {"type": "text", "text": "E", "fontSize": 22, "dx": -64.5, "align": "left", "baseline": "alphabetic"},
    "encoding": {"x": {"datum": "Neutrophils", "bandPosition": 0, "axis": null}, "y": {"datum": 277, "axis": null}}},
   {"mark": {"type": "text", "text": "RAGE staining", "fontSize": 14.5, "dx": 31.5, "align": "center", "baseline": "alphabetic"}, "encoding": {"y": {"datum": 277.2, "axis": null}}}
  ]
 },
 {
  "data": {"name": "f_bars"},
  "encoding": {
   "x": {"field": "cond", "type": "nominal", "scale": {"type": "band", "domain": ["Neutrophils", "Neutrophils + nFMLP"], "range": [307, 492], "paddingInner": 0.3333, "paddingOuter": 0.161}, "axis": null},
   "y": {"field": "mean", "type": "quantitative", "scale": {"domain": [70, 110], "range": [875, 750], "nice": false, "zero": false, "clamp": true},
         "axis": {"orient": "left", "offset": -307, "values": [70, 80, 90, 100, 110], "title": "Relative sRAGE concentration", "titleFontSize": 14.5, "titleX": -30, "titleY": 838, "labelFontSize": 12.5}}
  },
  "layer": [
   {"mark": {"type": "bar", "width": {"band": 1}, "fill": "#d4d4d4", "strokeWidth": 0}, "encoding": {"y2": {"datum": 0}}},
   {"mark": {"type": "rule", "color": "#555"}, "encoding": {"x": {"field": "cond", "type": "nominal", "bandPosition": 0, "axis": null}, "y2": {"datum": 0}}},
   {"mark": {"type": "rule", "color": "#555"}, "encoding": {"x": {"field": "cond", "type": "nominal", "bandPosition": 1, "axis": null}, "y2": {"datum": 0}}},
   {"mark": {"type": "tick", "orient": "horizontal", "size": 62, "thickness": 1, "color": "#555"}},
   {"mark": {"type": "rule", "color": "#555"}, "encoding": {"y2": {"field": "upper"}}},
   {"mark": {"type": "tick", "orient": "horizontal", "size": 32, "thickness": 1.3, "color": "#333"}, "encoding": {"y": {"field": "upper", "type": "quantitative"}}}
  ]
 },
 {
  "data": {"values": [{}]},
  "encoding": {
   "x": {"datum": "Neutrophils", "bandPosition": 0.5, "scale": {"type": "band", "domain": ["Neutrophils", "Neutrophils + nFMLP"], "range": [307, 492], "paddingInner": 0.3333, "paddingOuter": 0.161}, "axis": null},
   "y": {"datum": 108.4, "scale": {"domain": [70, 110], "range": [875, 750], "nice": false, "zero": false}, "axis": null}
  },
  "layer": [
   {"mark": {"type": "rule", "color": "#555"}, "encoding": {"x2": {"datum": "Neutrophils + nFMLP", "bandPosition": 0.5}}},
   {"mark": {"type": "rule", "color": "#555"}, "encoding": {"y2": {"datum": 107.1}}},
   {"mark": {"type": "rule", "color": "#555"}, "encoding": {"x": {"datum": "Neutrophils + nFMLP", "bandPosition": 0.5, "axis": null}, "y2": {"datum": 107.1}}},
   {"mark": {"type": "text", "text": "*", "fontSize": 14, "dx": 46.5, "align": "center", "baseline": "alphabetic"}, "encoding": {"y": {"datum": 107.8, "axis": null}}},
   {"mark": {"type": "text", "text": "sRAGE - Supernatant", "fontSize": 14, "dx": 34, "align": "center", "baseline": "alphabetic"}, "encoding": {"y": {"datum": 116.7, "axis": null}}},
   {"mark": {"type": "text", "text": "F", "fontSize": 22, "dx": -75, "align": "left", "baseline": "alphabetic"},
    "encoding": {"x": {"datum": "Neutrophils", "bandPosition": 0, "axis": null}, "y": {"datum": 116.2, "axis": null}}}
  ]
 },
 {
  "data": {"name": "f_bars"},
  "encoding": {
   "x": {"field": "cond", "type": "nominal", "scale": {"type": "band", "domain": ["Neutrophils", "Neutrophils + nFMLP"], "range": [307, 492], "paddingInner": 0.3333, "paddingOuter": 0.161},
         "axis": {"orient": "bottom", "offset": -76, "title": null, "labelAngle": 0, "labelExpr": "'Neutrophils'", "labelFontSize": 14, "labelPadding": 3}},
   "y": {"field": "mean", "type": "quantitative", "scale": {"domain": [0, 20], "range": [930, 888], "nice": false, "zero": false, "clamp": true},
         "axis": {"orient": "left", "offset": -307, "values": [0, 10, 20], "title": null, "labelFontSize": 12.5}}
  },
  "layer": [
   {"mark": {"type": "bar", "width": {"band": 1}, "fill": "#d4d4d4", "strokeWidth": 0}, "encoding": {"y2": {"datum": 0}}},
   {"mark": {"type": "rule", "color": "#555"}, "encoding": {"x": {"field": "cond", "type": "nominal", "bandPosition": 0}, "y2": {"datum": 0}}},
   {"mark": {"type": "rule", "color": "#555"}, "encoding": {"x": {"field": "cond", "type": "nominal", "bandPosition": 1}, "y2": {"datum": 0}}}
  ]
 },
 {
  "data": {"values": [{}]},
  "encoding": {
   "x": {"datum": "Neutrophils", "bandPosition": 0.5, "scale": {"type": "band", "domain": ["Neutrophils", "Neutrophils + nFMLP"], "range": [307, 492], "paddingInner": 0.3333, "paddingOuter": 0.161}, "axis": null},
   "y": {"datum": -23.8, "scale": {"domain": [0, 20], "range": [930, 888], "nice": false, "zero": false}, "axis": null}
  },
  "layer": [
   {"mark": {"type": "text", "text": "100 nM nFMLP", "fontSize": 11.5, "align": "center", "baseline": "middle"},
    "encoding": {"x": {"datum": "Neutrophils + nFMLP", "bandPosition": 0.5, "axis": null}, "y": {"datum": -15.1, "axis": null}}},
   {"mark": {"type": "rule", "color": "#555"}, "encoding": {"x2": {"datum": "Neutrophils + nFMLP", "bandPosition": 0.5}}},
   {"mark": {"type": "rule", "color": "#555"}, "encoding": {"y2": {"datum": -21.9}}},
   {"mark": {"type": "rule", "color": "#555"}, "encoding": {"x": {"datum": "Neutrophils + nFMLP", "bandPosition": 0.5, "axis": null}, "y2": {"datum": -21.9}}},
   {"mark": {"type": "text", "text": "50 ng/mL sRAGE", "fontSize": 14, "dx": 46.5, "align": "center", "baseline": "middle"}, "encoding": {"y": {"datum": -31.4, "axis": null}}}
  ]
 }
]
}
